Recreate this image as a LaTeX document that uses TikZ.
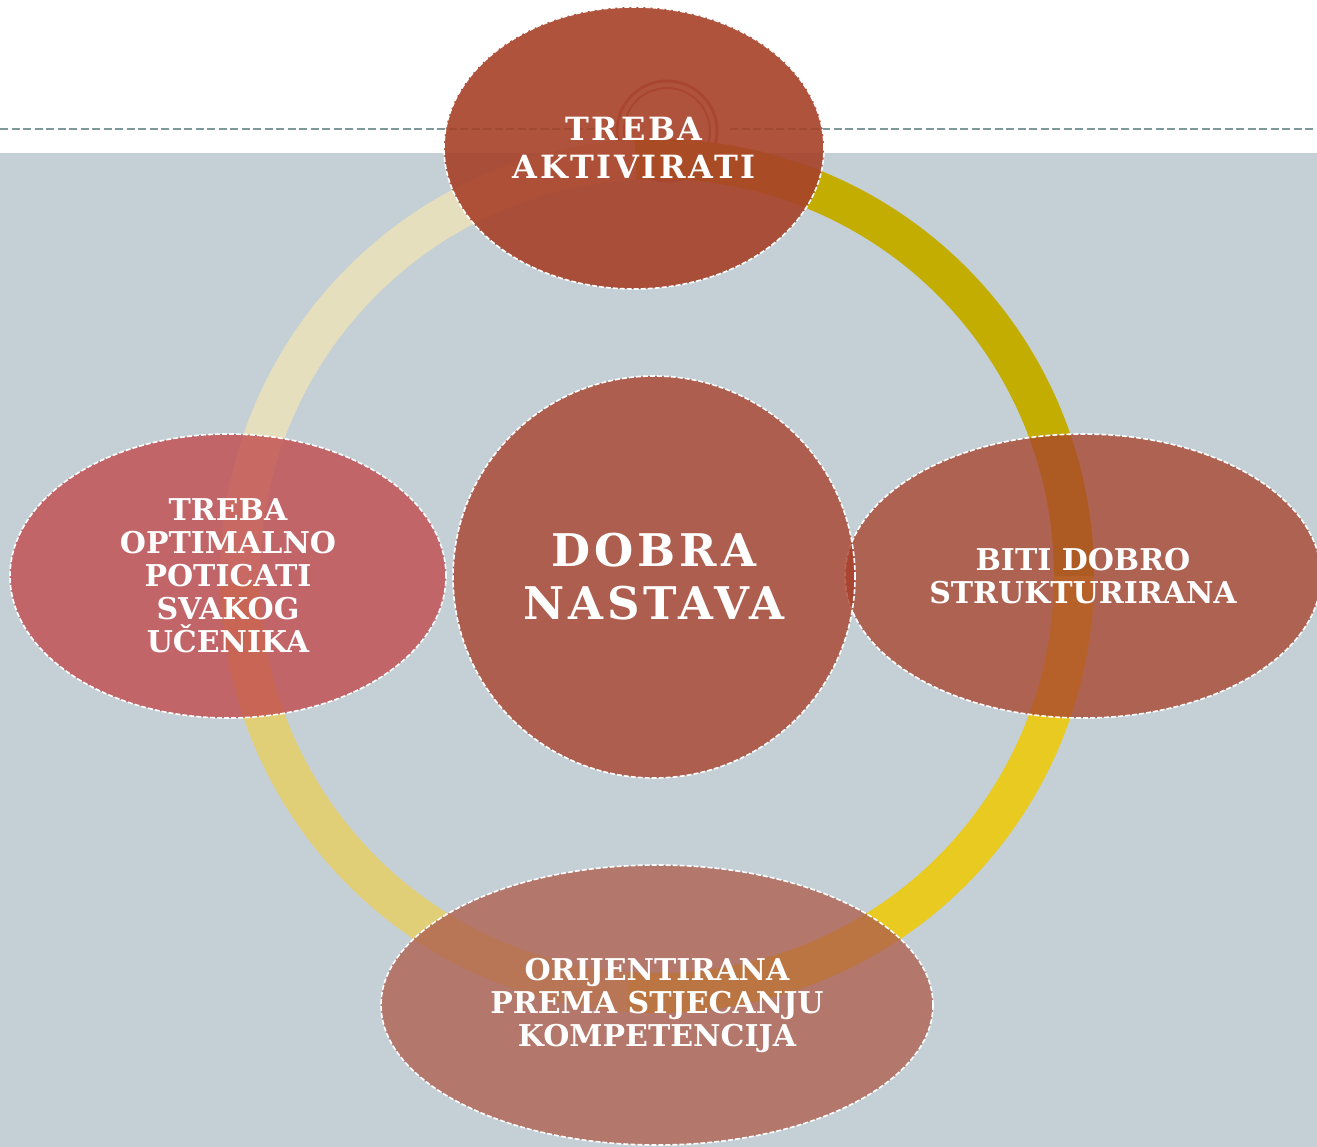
\documentclass[tikz,border=0pt]{standalone}
\usepackage{fontspec}
\setmainfont{DejaVu Serif}
\usetikzlibrary{shapes.geometric}

\definecolor{bgblue}{HTML}{C5D0D6}
\definecolor{rulecol}{HTML}{7D9999}
\definecolor{orncol}{HTML}{C07868}
\definecolor{ringolive}{HTML}{C3AD00}
\definecolor{ringbeige}{HTML}{E6DFBD}
\definecolor{ringsand}{HTML}{E1CF78}
\definecolor{ringyellow}{HTML}{E8CA20}
\definecolor{rusttop}{HTML}{A74129}
\definecolor{rustleft}{HTML}{C1484B}
\definecolor{rustright}{HTML}{A8442E}
\definecolor{rustmid}{HTML}{A83F28}
\definecolor{rustlow}{HTML}{AE5E4D}

\tikzset{
  bubble/.style={ellipse, draw=white, line width=1.6pt, dash pattern=on 5pt off 2pt,
    fill opacity=0.78, text opacity=1, text=white, align=center, inner sep=0pt,
    font=\bfseries\fontsize{30}{33}\selectfont},
}

\begin{document}
\begin{tikzpicture}[x=1pt,y=-1pt]

		\useasboundingbox (0,0) rectangle (1317,1147);
		\fill[white] (0,0) rectangle (1317,153);
		\fill[bgblue] (0,153) rectangle (1317,1147);

		% dashed rule and the little rings on it
		\draw[rulecol, line width=2pt, dash pattern=on 8pt off 3.5pt] (0,129) -- (612,129);
		\draw[rulecol, line width=2pt, dash pattern=on 8pt off 3.5pt] (730,129) -- (1317,129);
		\draw[orncol, line width=3pt] (667,131) circle (50);
		\draw[orncol, line width=2pt] (667,131) circle (43);

		% ring
		\def \r {417};
		\foreach \a/\b/\c in {267/360/ringolive, 179/267/ringbeige, 94/179/ringsand, 0/94/ringyellow} {
		    \draw[\c, line width=40pt] ([shift={(\a:\r)}]657,576) arc (\a:\b:\r);
		}

		\node (ta) at (634,148) [bubble, fill=rusttop, fill opacity=0.9, minimum width=380pt, minimum height=282pt,
		    font=\bfseries\fontsize{32}{38}\selectfont\addfontfeature{LetterSpace=8}] {TREBA\\AKTIVIRATI};
		\node (tp) at (228,576) [bubble, fill=rustleft, minimum width=436pt, minimum height=284pt] {TREBA\\OPTIMALNO\\POTICATI\\SVAKOG\\UČENIKA};
		\node (bd) at (1083,576) [bubble, fill=rustright, minimum width=476pt, minimum height=284pt] {BITI DOBRO\\STRUKTURIRANA};
		\node (or) at (657,1005) [bubble, fill=rustlow, minimum width=552pt, minimum height=280pt] {ORIJENTIRANA\\PREMA STJECANJU\\KOMPETENCIJA};
		\node (dn) at (654,577) [bubble, circle, fill=rustmid, minimum size=402pt,
		    font=\bfseries\fontsize{45}{53}\selectfont\addfontfeature{LetterSpace=9}] {DOBRA\\NASTAVA};
	\end{tikzpicture}
\end{document}
